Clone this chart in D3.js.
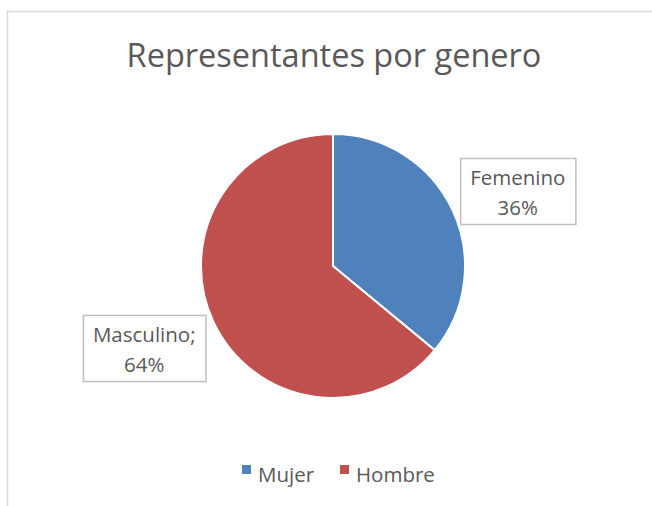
<!DOCTYPE html>
<html>
<head>
<meta charset="utf-8">
<script src="https://cdn.jsdelivr.net/npm/d3@7"></script>
<style>
  body { margin: 0; background: #fff; }
  text { font-family: "Open Sans", "Noto Sans", sans-serif; fill: #595959; }
</style>
</head>
<body>
<div id="chart"></div>
<script>
var w = 652,
	h = 506;

// datos
var categories = ["Mujer", "Hombre"];
var labelNames = ["Femenino", "Masculino"];
var separators = ["", ";"];
var values = [36, 64];
var colors = ["#4f81bd", "#c0504d"];

var svg = d3.select("#chart")
	.append("svg")
	.attr("width", w)
	.attr("height", h);

// borde del grafico
svg.append("path")
	.attr("d", "M7.5," + h + "V11.5H" + w)
	.attr("fill", "none")
	.attr("stroke", "#d9d9d9")
	.attr("stroke-width", 1.5);

// titulo
svg.append("text")
	.attr("x", 334)
	.attr("y", 67)
	.attr("text-anchor", "middle")
	.attr("font-size", "32.5px")
	.text("Representantes por genero");

var cx = 333, cy = 266, r = 132;

var pie = d3.pie().sort(null).value(function(d) { return d; });
var arcs = pie(values);
var arc = d3.arc().innerRadius(0).outerRadius(r);
var labelArc = d3.arc().innerRadius(202).outerRadius(202);
// ajuste fino de la posicion de las etiquetas
var nudge = [[2, 11], [-6, -4]];

var g = svg.append("g")
	.attr("transform", "translate(" + cx + "," + cy + ")");

g.selectAll("path.slice")
	.data(arcs)
	.enter()
	.append("path")
	.attr("class", "slice")
	.attr("d", arc)
	.attr("fill", function(d, i) { return colors[i]; })
	.attr("stroke", "#fff")
	.attr("stroke-width", 2);

// etiquetas con caja
var total = d3.sum(values);
var labels = g.selectAll("g.lbl")
	.data(arcs)
	.enter()
	.append("g")
	.attr("class", "lbl")
	.attr("transform", function(d, i) {
		var c = labelArc.centroid(d);
		return "translate(" + (c[0] + nudge[i][0]) + "," + (c[1] + nudge[i][1]) + ")";
	});

labels.each(function(d, i) {
	var el = d3.select(this);
	var rect = el.append("rect");
	var t = el.append("text")
		.attr("text-anchor", "middle")
		.attr("font-size", "20.5px");
	t.append("tspan")
		.attr("x", 0)
		.attr("y", -6)
		.text(labelNames[i] + separators[i]);
	t.append("tspan")
		.attr("x", 0)
		.attr("y", 24)
		.text(Math.round(d.data / total * 100) + "%");
	var bb = t.node().getBBox();
	var bw = bb.width + 20, bh = 66;
	rect.attr("x", -bw / 2 + 0.5)
		.attr("y", -bh / 2 + 0.5)
		.attr("width", bw)
		.attr("height", bh)
		.attr("fill", "#fff")
		.attr("stroke", "#bfbfbf")
		.attr("stroke-width", 1.5);
});

// leyenda
var legendX = [242, 340];
var legend = svg.append("g").attr("class", "legend");
legend.selectAll("rect")
	.data(categories)
	.enter()
	.append("rect")
	.attr("x", function(d, i) { return legendX[i]; })
	.attr("y", 465)
	.attr("width", 9)
	.attr("height", 9)
	.attr("fill", function(d, i) { return colors[i]; });
legend.selectAll("text")
	.data(categories)
	.enter()
	.append("text")
	.attr("x", function(d, i) { return legendX[i] + 16; })
	.attr("y", 482)
	.attr("font-size", "20.5px")
	.text(function(d) { return d; });
</script>
</body>
</html>
